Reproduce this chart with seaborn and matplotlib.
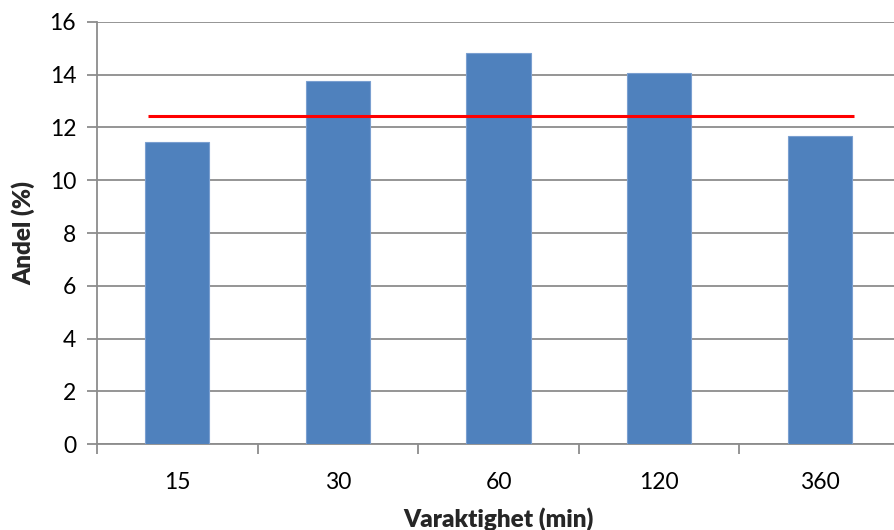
import matplotlib
matplotlib.use("Agg")
import matplotlib.pyplot as plt
import seaborn as sns
import pandas as pd
import numpy as np

# Data
durations = ["15", "30", "60", "120", "360"]
shares = [11.43, 13.77, 14.80, 14.05, 11.67]
reference_level = 12.44
y_ticks = [0, 2, 4, 6, 8, 10, 12, 14, 16]

df = pd.DataFrame({"Varaktighet": durations, "Andel": shares})

sns.set_theme(style="white")
plt.rcParams["font.family"] = ["Lato", "DejaVu Sans"]

fig = plt.figure(figsize=(8.94, 5.30), dpi=100)
ax = fig.add_axes([97 / 894, 1 - 444.3 / 530, (900 - 97) / 894, (444.3 - 21.7) / 530])

sns.barplot(data=df, x="Varaktighet", y="Andel", color="#4F81BD",
            saturation=1, width=0.4, ax=ax, zorder=3,
            edgecolor="#7A9FD0", linewidth=0.8)

# Horizontal reference line spanning the bars
ax.plot([-0.18, len(durations) - 1 + 0.215], [reference_level, reference_level],
        color="#FF0000", lw=2.2, zorder=4, solid_capstyle="butt")

ax.set_xlim(-0.5, len(durations) - 0.5)
ax.set_ylim(0, 16)
ax.set_yticks(y_ticks)
ax.set_yticklabels([str(t) for t in y_ticks])

grid_col = "#8C8C8C"
ax.yaxis.grid(True, color=grid_col, lw=1.3, zorder=0)
ax.xaxis.grid(False)
for s in ["top", "right"]:
    ax.spines[s].set_visible(False)
for s in ["left", "bottom"]:
    ax.spines[s].set_color(grid_col)
    ax.spines[s].set_linewidth(1.3)

# Category-boundary ticks on x, outward ticks on y
ax.set_xticks(np.arange(len(durations)), labels=durations, minor=False)
ax.set_xticks(np.arange(len(durations) + 1) - 0.5, minor=True)
ax.tick_params(axis="x", which="major", length=0, pad=20, labelsize=16.5, labelcolor="black")
ax.tick_params(axis="x", which="minor", length=7, width=1.3, color=grid_col, direction="out")
ax.tick_params(axis="y", length=7, width=1.3, color=grid_col, direction="out",
               pad=8, labelsize=16.5, labelcolor="black")
ax.tick_params(left=True, bottom=True, which="both")

ax.set_xlabel("Varaktighet (min)", fontsize=17.5, fontweight="heavy", labelpad=10)
ax.set_ylabel("Andel (%)", fontsize=17.5, fontweight="heavy", labelpad=10)

fig.savefig("out.png", dpi=100)
